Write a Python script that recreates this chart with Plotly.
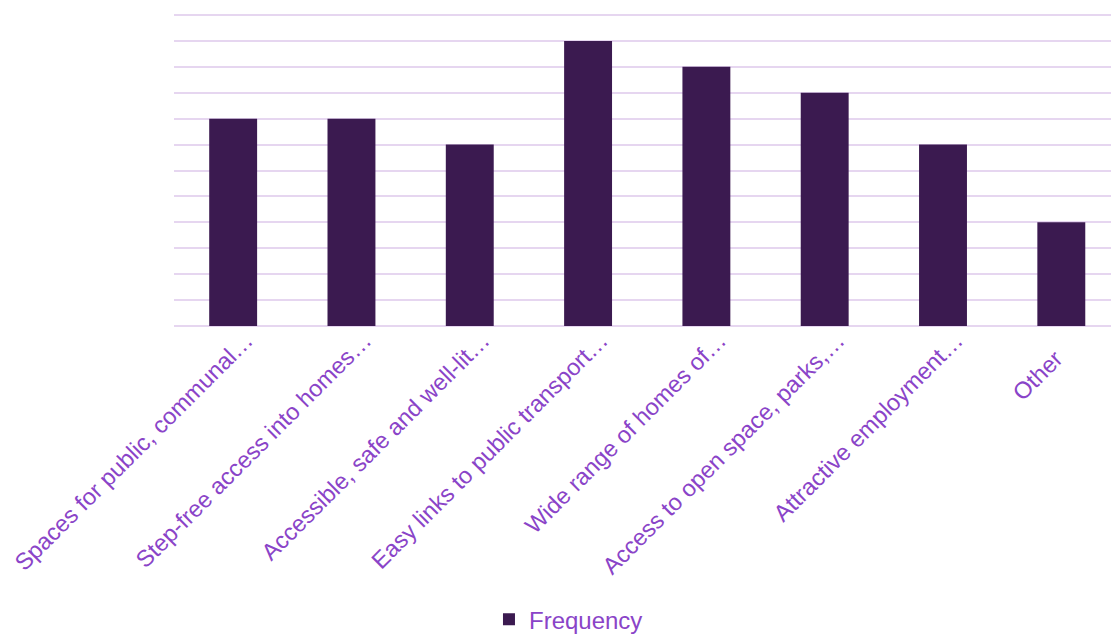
import plotly.graph_objects as go

categories = [
    "Spaces for public, communal…",
    "Step-free access into homes…",
    "Accessible, safe and well-lit…",
    "Easy links to public transport…",
    "Wide range of homes of…",
    "Access to open space, parks,…",
    "Attractive employment…",
    "Other",
]
frequency = [8, 8, 7, 11, 10, 9, 7, 4]

bar_color = "#3b1a50"
text_color = "#8a44c8"
grid_color = "#e6d6f0"
font = "Liberation Sans, Arial, sans-serif"

# short labels are anchored a little differently in the original: pad with nbsp
tick_text = [c if c.endswith("…") else c + "\u00a0" * 4 for c in categories]

fig = go.Figure()
fig.add_trace(go.Bar(
    x=categories, y=frequency, name="Frequency",
    marker=dict(color=bar_color, line=dict(width=0)),
    width=0.405,
))

fig.update_layout(
    width=1111, height=635,
    margin=dict(l=174, r=0, t=14, b=309, autoexpand=False),
    plot_bgcolor="white", paper_bgcolor="white",
    font=dict(family=font, color=text_color, size=24),
    showlegend=True,
    legend=dict(orientation="h", x=0.421, xanchor="center", y=0.024, yanchor="middle",
                yref="container", font=dict(size=24, color=text_color)),
    xaxis=dict(range=[-0.5, 7.42], tickangle=-45, showgrid=False, showline=False,
               ticks="", tickfont=dict(size=23.5, color=text_color), ticklabelshift=13,
               ticklabelstandoff=-5, automargin=False,
               tickmode="array", tickvals=categories, ticktext=tick_text),
    yaxis=dict(range=[0, 12.04], dtick=1, showgrid=True, gridcolor=grid_color, gridwidth=2,
               showticklabels=False, zeroline=True, zerolinecolor=grid_color, zerolinewidth=2,
               ticks="", automargin=False),
)

fig.write_html("out.html")
